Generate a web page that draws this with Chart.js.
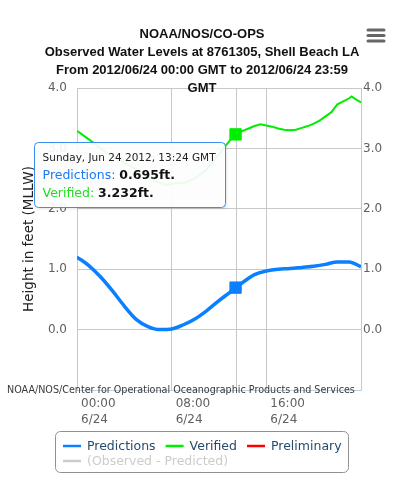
<!DOCTYPE html>
<html>
<head>
<meta charset="utf-8">
<script src="https://cdn.jsdelivr.net/npm/chart.js@4.4.1/dist/chart.umd.min.js"></script>
<style>
  html, body { margin: 0; padding: 0; background: #fff; }
  #wrap { width: 400px; height: 482px; }
</style>
</head>
<body>
<div id="wrap"><canvas id="tideChart" width="400" height="482"></canvas></div>
<script>
// Heures GMT du 24/06/2012 et hauteurs (ft, MLLW)
const predHours = [0, 1, 2, 3, 4, 5, 6, 7, 8, 9, 10, 11, 12, 13, 13.4, 14, 15, 16, 17, 18, 19, 20, 21, 22, 23, 24];
const predValues = [1.20, 1.06, 0.87, 0.64, 0.39, 0.17, 0.05, 0.00, 0.01, 0.08, 0.18, 0.32, 0.48, 0.63, 0.695, 0.78, 0.91, 0.97, 1.00, 1.01, 1.03, 1.05, 1.08, 1.12, 1.12, 1.04];

const verHours = [0, 0.5, 1, 1.5, 2, 2.5, 3, 3.5, 4, 4.5, 5, 5.5, 6, 6.5, 7, 7.5, 8, 8.5, 9, 9.5, 10, 10.5, 11, 11.5, 12, 12.5, 13, 13.4, 14, 14.5, 15, 15.5, 16, 16.5, 17, 17.5, 18, 18.5, 19, 19.5, 20, 20.5, 21, 21.5, 22, 22.5, 23, 23.2, 23.5, 24];
const verValues = [3.29, 3.22, 3.15, 3.08, 3.00, 2.93, 2.87, 2.82, 2.76, 2.71, 2.65, 2.58, 2.52, 2.47, 2.43, 2.40, 2.41, 2.43, 2.42, 2.46, 2.51, 2.58, 2.66, 2.78, 2.90, 3.03, 3.15, 3.232, 3.29, 3.33, 3.37, 3.40, 3.38, 3.36, 3.33, 3.31, 3.30, 3.31, 3.34, 3.37, 3.41, 3.46, 3.53, 3.60, 3.73, 3.78, 3.83, 3.86, 3.82, 3.76];

const xTicks = [0, 8, 16, 24];
const yTicks = [-1, 0, 1, 2, 3, 4];
const dayLabel = "6/24";
const hoverHour = 13.4;

const titleLines = [
  "NOAA/NOS/CO-OPS",
  "Observed Water Levels at 8761305, Shell Beach LA",
  "From 2012/06/24 00:00 GMT to 2012/06/24 23:59",
  "GMT"
];
const yTitle = "Height in feet (MLLW)";
const creditText = "NOAA/NOS/Center for Operational Oceanographic Products and Services";

const gridColor = "#c8c8c8";
const labelFont = "DejaVu Sans";

function pad2(n) {
  return String(n).padStart(2, "0");
}

// Titre, icône du menu et titre de l'axe Y
const decorPlugin = {
  id: "decor",
  beforeDatasetsDraw(chart) {
    const ctx = chart.ctx;
    const area = chart.chartArea;
    ctx.save();
    // ligne verticale du curseur
    const cx = Math.round(chart.scales.x.getPixelForValue(hoverHour)) + 0.5;
    ctx.strokeStyle = gridColor;
    ctx.lineWidth = 1;
    ctx.beginPath();
    ctx.moveTo(cx, area.top);
    ctx.lineTo(cx, area.bottom);
    ctx.stroke();

    // titre de l'axe Y
    ctx.translate(29, (area.top + area.bottom) / 2);
    ctx.rotate(-Math.PI / 2);
    ctx.fillStyle = "#222";
    ctx.font = "13.5px " + labelFont;
    ctx.textAlign = "center";
    ctx.textBaseline = "middle";
    ctx.fillText(yTitle, 0, 0);
    ctx.restore();
  },
  afterDraw(chart) {
    const ctx = chart.ctx;
    ctx.save();
    // titre
    ctx.fillStyle = "#111";
    ctx.font = "bold 13px 'Liberation Sans', Arial, sans-serif";
    ctx.textAlign = "center";
    ctx.textBaseline = "middle";
    titleLines.forEach((line, i) => ctx.fillText(line, 202, 34 + i * 18));

    // menu
    ctx.strokeStyle = "#666";
    ctx.lineWidth = 3;
    ctx.lineCap = "round";
    [30, 35.5, 41].forEach((y) => {
      ctx.beginPath();
      ctx.moveTo(368, y);
      ctx.lineTo(384, y);
      ctx.stroke();
    });

    // crédits
    ctx.font = "10px " + labelFont;
    const w = ctx.measureText(creditText).width;
    const size = 10 * 348 / w;
    ctx.font = size.toFixed(2) + "px " + labelFont;
    ctx.fillStyle = "#3a3a3a";
    ctx.textAlign = "left";
    ctx.fillText(creditText, 7, 390);
    ctx.restore();
  }
};

// Légende encadrée sous le graphique
const legendPlugin = {
  id: "boxLegend",
  afterDraw(chart) {
    const ctx = chart.ctx;
    ctx.save();
    ctx.font = "12.5px " + labelFont;
    ctx.textBaseline = "middle";
    const items = chart.data.datasets.map((ds, i) => ({
      label: ds.label,
      color: ds.borderColor,
      hidden: !chart.isDatasetVisible(i),
      width: 24 + ctx.measureText(ds.label).width
    }));
    const boxLeft = 55, boxRight = 348, boxTop = 431, boxBottom = 472;
    ctx.strokeStyle = "#909090";
    ctx.lineWidth = 1;
    ctx.beginPath();
    ctx.roundRect(boxLeft + 0.5, boxTop + 0.5, boxRight - boxLeft, boxBottom - boxTop, 5);
    ctx.stroke();

    let x = 63, y = 446;
    items.forEach((it) => {
      if (x + it.width > boxRight - 6) {
        x = 63;
        y += 15;
      }
      const col = it.hidden ? "#cccccc" : it.color;
      ctx.strokeStyle = col;
      ctx.lineWidth = 2.5;
      ctx.beginPath();
      ctx.moveTo(x, y);
      ctx.lineTo(x + 18, y);
      ctx.stroke();
      ctx.fillStyle = it.hidden ? "#cccccc" : "#274b6d";
      ctx.fillText(it.label, x + 24, y + 1);
      x += it.width + 10;
    });
    ctx.restore();
  }
};

// Infobulle fixe au point survolé
const tooltipPlugin = {
  id: "fixedTooltip",
  afterDraw(chart) {
    const ctx = chart.ctx;
    const pi = predHours.indexOf(hoverHour);
    const vi = verHours.indexOf(hoverHour);
    const px = chart.scales.x.getPixelForValue(hoverHour);
    const py = chart.scales.y.getPixelForValue(verValues[vi]);
    const hh = Math.floor(hoverHour);
    const mm = Math.round((hoverHour - hh) * 60);
    const head = "Sunday, Jun 24 2012, " + pad2(hh) + ":" + pad2(mm) + " GMT";
    const rows = [
      { name: "Predictions: ", value: predValues[pi].toFixed(3) + "ft.", color: "#1a7cf0" },
      { name: "Verified: ", value: verValues[vi].toFixed(3) + "ft.", color: "#22dd22" }
    ];

    ctx.save();
    ctx.font = "10.5px " + labelFont;
    let maxW = ctx.measureText(head).width;
    rows.forEach((r) => {
      ctx.font = "12.5px " + labelFont;
      const a = ctx.measureText(r.name).width;
      ctx.font = "bold 12.5px " + labelFont;
      maxW = Math.max(maxW, a + ctx.measureText(r.value).width);
    });
    const boxW = maxW + 18;
    const boxH = 65;
    const right = px - 11;
    const left = right - boxW;
    const top = py + 8;

    ctx.shadowColor = "rgba(0,0,0,0.15)";
    ctx.shadowOffsetX = 1;
    ctx.shadowOffsetY = 1;
    ctx.shadowBlur = 3;
    ctx.fillStyle = "rgba(255,255,255,0.92)";
    ctx.beginPath();
    ctx.roundRect(Math.round(left) + 0.5, Math.round(top) + 0.5, boxW, boxH, 4);
    ctx.fill();
    ctx.shadowColor = "transparent";
    ctx.strokeStyle = "#3a8ff0";
    ctx.lineWidth = 1;
    ctx.stroke();

    const tx = left + 9;
    ctx.textBaseline = "middle";
    ctx.fillStyle = "#222";
    ctx.font = "10.5px " + labelFont;
    ctx.fillText(head, tx, top + 16);
    rows.forEach((r, i) => {
      const ry = top + 33 + i * 18;
      ctx.font = "12.5px " + labelFont;
      ctx.fillStyle = r.color;
      ctx.fillText(r.name, tx, ry);
      const nw = ctx.measureText(r.name).width;
      ctx.font = "bold 12.5px " + labelFont;
      ctx.fillStyle = "#111";
      ctx.fillText(r.value, tx + nw, ry);
    });
    ctx.restore();
  }
};

const hoverRadius = (c) => (c.raw && c.raw.x === hoverHour ? 8 : 0);

const predData = predHours.map((h, i) => ({ x: h, y: predValues[i] }));
const verData = verHours.map((h, i) => ({ x: h, y: verValues[i] }));

new Chart(document.getElementById("tideChart"), {
  type: "line",
  data: {
    datasets: [
      {
        label: "Predictions",
        data: predData,
        borderColor: "#0a80ff",
        backgroundColor: "#0a80ff",
        borderWidth: 3.5,
        cubicInterpolationMode: "monotone",
        pointStyle: "rect",
        pointRadius: hoverRadius,
        pointBorderWidth: 1
      },
      {
        label: "Verified",
        data: verData,
        borderColor: "#00ee00",
        backgroundColor: "#00ee00",
        borderWidth: 2,
        tension: 0,
        pointStyle: "rect",
        pointRadius: hoverRadius,
        pointBorderWidth: 1
      },
      {
        label: "Preliminary",
        data: [],
        borderColor: "#ff0000"
      },
      {
        label: "(Observed - Predicted)",
        data: [],
        borderColor: "#aaaaaa",
        hidden: true
      }
    ]
  },
  options: {
    responsive: false,
    animation: false,
    events: [],
    layout: { padding: { top: 88, bottom: 52, left: 0, right: 0 } },
    plugins: {
      legend: { display: false },
      tooltip: { enabled: false },
      title: { display: false }
    },
    scales: {
      x: {
        type: "linear",
        min: 0,
        max: 24,
        afterBuildTicks: (s) => { s.ticks = xTicks.map((v) => ({ value: v })); },
        afterFit: (s) => { s.height = 40; },
        grid: { color: gridColor, drawTicks: false },
        border: { color: "#c0d0e0" },
        ticks: {
          align: "start",
          labelOffset: 4,
          padding: 6,
          maxRotation: 0,
          color: "#606060",
          font: { family: labelFont, size: 12, lineHeight: 1.35 },
          callback: (v) => (v < 24 ? [pad2(v) + ":00", dayLabel] : "")
        }
      },
      y: {
        position: "left",
        min: -1,
        max: 4,
        afterBuildTicks: (s) => { s.ticks = yTicks.map((v) => ({ value: v })); },
        afterFit: (s) => { s.width = 77; },
        grid: {
          color: (c) => (c.tick && c.tick.value === -1 ? "rgba(0,0,0,0)" : gridColor),
          drawTicks: false
        },
        border: { display: false },
        ticks: {
          padding: 10,
          color: "#606060",
          font: { family: labelFont, size: 12 },
          callback: (v) => (v < 0 ? "" : v.toFixed(1))
        }
      },
      y2: {
        position: "right",
        min: -1,
        max: 4,
        afterBuildTicks: (s) => { s.ticks = yTicks.map((v) => ({ value: v })); },
        afterFit: (s) => { s.width = 39; },
        grid: { display: false, drawTicks: false },
        border: { display: false },
        ticks: {
          padding: 2,
          color: "#606060",
          font: { family: labelFont, size: 12 },
          callback: (v) => (v < 0 ? "" : v.toFixed(1))
        }
      }
    }
  },
  plugins: [decorPlugin, legendPlugin, tooltipPlugin]
});
</script>
</body>
</html>
